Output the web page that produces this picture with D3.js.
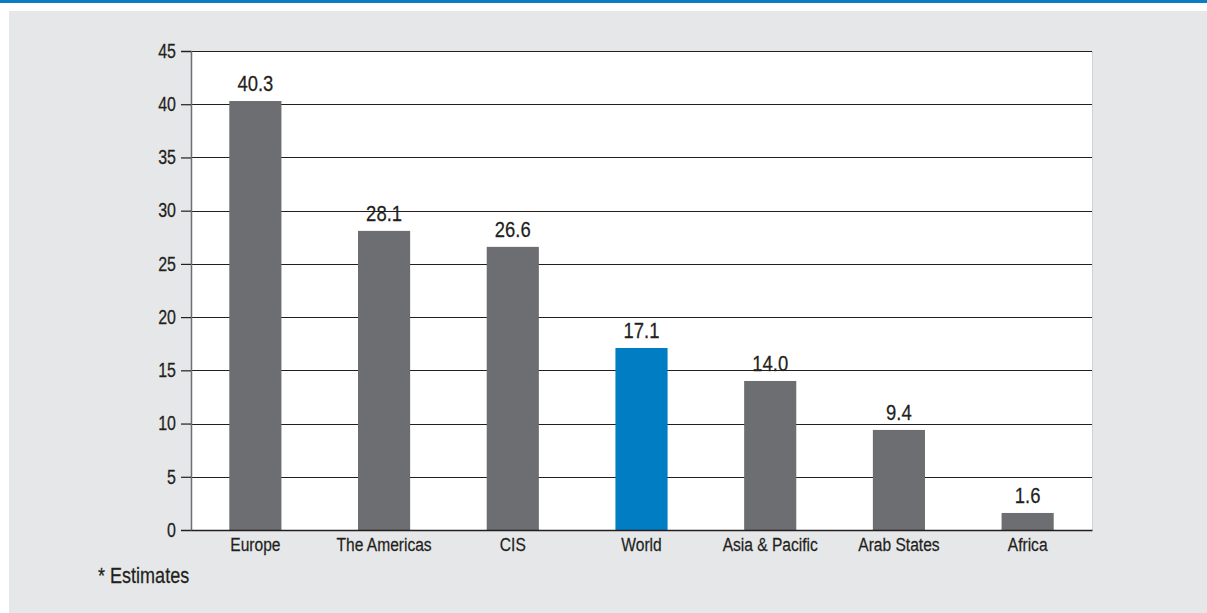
<!DOCTYPE html>
<html>
<head>
<meta charset="utf-8">
<script src="https://cdn.jsdelivr.net/npm/d3@7"></script>
<style>
  html, body { margin: 0; padding: 0; background: #ffffff; }
  svg { display: block; }
  text { font-family: "Liberation Sans", Arial, sans-serif; fill: #231f20; stroke: #231f20; stroke-width: 0.25px; }
</style>
</head>
<body>
<svg id="chart" width="1207" height="613"></svg>
<script>
const categories = ["Europe", "The Americas", "CIS", "World", "Asia & Pacific", "Arab States", "Africa"];
const values = [40.3, 28.1, 26.6, 17.1, 14.0, 9.4, 1.6];
const highlight = ["World"];
const yTicks = [0, 5, 10, 15, 20, 25, 30, 35, 40, 45];
const footnote = "* Estimates";

const W = 1207, H = 613;
const NARROW = 0.82; // horizontal compression to mimic a condensed face
const FONT = '"Liberation Sans", Arial, sans-serif';
const svg = d3.select("#chart");

// frame
svg.append("rect").attr("x", 0).attr("y", 0).attr("width", W).attr("height", 3).attr("fill", "#0a7dc2");
svg.append("rect").attr("x", 9).attr("y", 11).attr("width", W - 9).attr("height", H - 11).attr("fill", "#e6e7e8");

const plot = { left: 191, right: 1092, top: 51, bottom: 530 };

const x = d3.scaleBand().domain(categories).range([plot.left, plot.right]).padding(0);
const y = d3.scaleLinear().domain([0, 45]).range([plot.bottom, plot.top]);
const barW = x.bandwidth() * 0.405;

// plot background
svg.append("rect")
  .attr("x", plot.left).attr("y", plot.top)
  .attr("width", plot.right - plot.left).attr("height", plot.bottom - plot.top)
  .attr("fill", "#ffffff");

// right edge
svg.append("line")
  .attr("x1", plot.right + 0.5).attr("x2", plot.right + 0.5)
  .attr("y1", plot.top).attr("y2", plot.bottom)
  .attr("stroke", "#d0d1d3").attr("stroke-width", 1);

// gridlines
svg.append("g").selectAll("line").data(yTicks.filter(t => t > 0)).join("line")
  .attr("x1", plot.left).attr("x2", plot.right)
  .attr("y1", d => Math.round(y(d)) + 0.5).attr("y2", d => Math.round(y(d)) + 0.5)
  .attr("stroke", "#231f20").attr("stroke-width", 1.2);

// bars
svg.append("g").selectAll("rect").data(categories).join("rect")
  .attr("x", d => x(d) + (x.bandwidth() - barW) / 2)
  .attr("width", barW)
  .attr("y", (d, i) => y(values[i]))
  .attr("height", (d, i) => y(0) - y(values[i]))
  .attr("fill", d => highlight.includes(d) ? "#007dc3" : "#6d6e71");

// value labels
svg.append("g").selectAll("text").data(categories).join("text")
  .attr("transform", (d, i) => `translate(${x(d) + x.bandwidth() / 2},${y(values[i]) - 10}) scale(${NARROW},1)`)
  .attr("text-anchor", "middle")
  .attr("font-size", "22.5px")
  .text((d, i) => d3.format(".1f")(values[i]));

// y axis
const yAxis = d3.axisLeft(y).tickValues(yTicks).tickSize(10).tickPadding(5).tickFormat(d3.format("d"));
const gy = svg.append("g").attr("transform", `translate(${plot.left},0)`).call(yAxis);
gy.select(".domain").attr("stroke", "#6d6e71").attr("stroke-width", 1.5);
gy.selectAll(".tick line").attr("stroke", "#231f20").attr("stroke-width", 1.2);
gy.selectAll(".tick text")
  .attr("font-size", "19.5px").attr("fill", "#231f20").style("font-family", FONT)
  .attr("x", -15 / NARROW)
  .attr("transform", `scale(${NARROW},1)`);

// x axis
const xAxis = d3.axisBottom(x).tickSize(0).tickPadding(8);
const gx = svg.append("g").attr("transform", `translate(0,${plot.bottom})`).call(xAxis);
gx.select(".domain").attr("stroke", "#231f20").attr("stroke-width", 1.7);
gx.selectAll(".tick text")
  .attr("font-size", "19px").attr("fill", "#231f20").style("font-family", FONT)
  .attr("transform", `scale(${NARROW},1)`);

// footnote
svg.append("text")
  .attr("transform", `translate(98,583) scale(${NARROW},1)`)
  .attr("font-size", "22px").text(footnote);
</script>
</body>
</html>
